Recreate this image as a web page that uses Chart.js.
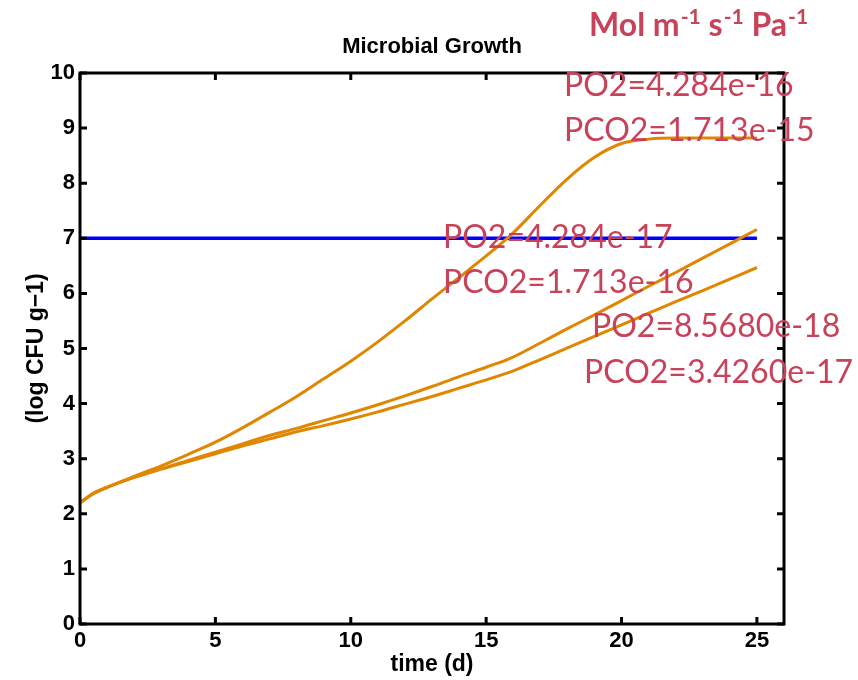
<!DOCTYPE html>
<html>
<head>
  <title>Microbial Growth</title>
  <script src="https://cdn.jsdelivr.net/npm/chart.js"></script>
  <style>
    body { margin: 0; background: #fff; }
    #wrap { position: relative; width: 858px; height: 680px; }
    .heading {
      position: absolute;
      left: 282px; width: 300px; top: 33px;
      text-align: center;
      font: bold 22px "Liberation Sans", Arial, sans-serif;
      line-height: 26px;
      color: #000;
    }
    .note {
      position: absolute;
      font-family: Lato, "Open Sans", sans-serif;
      font-size: 32px;
      line-height: 1;
      color: #c8435a;
      white-space: nowrap;
    }
    .note.units { font-weight: bold; }
    .note sup { font-size: 0.66em; vertical-align: 0.55em; line-height: 0; margin-left: 1px; }
  </style>
</head>
<body>
  <div id="wrap">
    <canvas id="growthChart" width="858" height="680"></canvas>
    <div class="heading">Microbial Growth</div>
    <div class="note units" style="left:589px; top:8px;">Mol m<sup>-1</sup> s<sup>-1</sup> Pa<sup>-1</sup></div>
    <div class="note" style="left:564px; top:68px;">PO2=4.284e-16</div>
    <div class="note" style="left:564px; top:113px;">PCO2=1.713e-15</div>
    <div class="note" style="left:443px; top:220px;">PO2=4.284e-17</div>
    <div class="note" style="left:443px; top:265px;">PCO2=1.713e-16</div>
    <div class="note" style="left:592px; top:309px;">PO2=8.5680e-18</div>
    <div class="note" style="left:584px; top:355px;">PCO2=3.4260e-17</div>
  </div>

  <script>
    // values (days vs log CFU/g)
    const timeHigh = [0, 0.5, 1, 2, 3, 4, 5, 6, 7, 8, 9, 10, 11, 12, 13, 14, 15, 16, 17, 18, 19, 20, 21, 22, 23, 24, 25];
    const growthHigh = [2.2, 2.37, 2.48, 2.68, 2.87, 3.08, 3.3, 3.56, 3.84, 4.13, 4.45, 4.77, 5.12, 5.5, 5.9, 6.29, 6.68, 7.1, 7.6, 8.08, 8.47, 8.72, 8.8, 8.82, 8.82, 8.82, 8.82];

    const timeLow = [0, 0.5, 1, 2, 3, 4, 5, 6, 7, 8, 9, 10, 11, 12, 13, 14, 15, 15.93, 17, 18, 19, 20, 21, 22, 23, 24, 25];
    const growthMid = [2.2, 2.37, 2.48, 2.66, 2.82, 2.97, 3.12, 3.27, 3.42, 3.55, 3.69, 3.83, 3.98, 4.14, 4.31, 4.49, 4.66, 4.83, 5.1, 5.36, 5.61, 5.87, 6.13, 6.38, 6.64, 6.9, 7.16];
    const growthLowest = [2.2, 2.37, 2.48, 2.66, 2.81, 2.95, 3.09, 3.23, 3.36, 3.49, 3.6, 3.72, 3.85, 3.99, 4.13, 4.28, 4.43, 4.58, 4.8, 5.01, 5.22, 5.43, 5.64, 5.85, 6.05, 6.26, 6.47];

    const limitTime = [0, 25];
    const limitLevel = [7, 7];

    const ORANGE = 'rgb(224,134,0)';
    const toPoints = (xs, ys) => xs.map((t, i) => ({ x: t, y: ys[i] }));

    const tickFont = { family: '"Liberation Sans", Arial, sans-serif', size: 22, weight: 'bold' };
    const labelFont = { family: '"Liberation Sans", Arial, sans-serif', size: 23, weight: 'bold' };

    // MATLAB style box with inward ticks
    const boxPlugin = {
      id: 'box',
      afterDraw(chart) {
        const { ctx, chartArea: a, scales: { x, y } } = chart;
        const len = 7;
        ctx.save();
        ctx.strokeStyle = '#000';
        ctx.lineWidth = 3;
        ctx.strokeRect(a.left, a.top, a.right - a.left, a.bottom - a.top);
        ctx.beginPath();
        x.ticks.forEach(t => {
          const px = x.getPixelForValue(t.value);
          ctx.moveTo(px, a.bottom); ctx.lineTo(px, a.bottom - len);
          ctx.moveTo(px, a.top); ctx.lineTo(px, a.top + len);
        });
        y.ticks.forEach(t => {
          const py = y.getPixelForValue(t.value);
          ctx.moveTo(a.left, py); ctx.lineTo(a.left + len, py);
          ctx.moveTo(a.right, py); ctx.lineTo(a.right - len, py);
        });
        ctx.stroke();
        ctx.restore();
      }
    };

    const lineSet = (data, color, width) => ({
      data: data,
      borderColor: color,
      borderWidth: width,
      pointRadius: 0,
      fill: false,
      showLine: true,
      cubicInterpolationMode: 'monotone'
    });

    new Chart(document.getElementById('growthChart').getContext('2d'), {
      type: 'line',
      data: {
        datasets: [
          lineSet(toPoints(timeHigh, growthHigh), ORANGE, 3),
          lineSet(toPoints(timeLow, growthMid), ORANGE, 3),
          lineSet(toPoints(timeLow, growthLowest), ORANGE, 3),
          lineSet(toPoints(limitTime, limitLevel), '#0000ff', 3.5)
        ]
      },
      options: {
        responsive: false,
        animation: false,
        layout: { padding: { top: 73, right: 74, bottom: 0, left: 0 } },
        plugins: {
          legend: { display: false },
          tooltip: { enabled: false },
          title: { display: false }
        },
        scales: {
          x: {
            type: 'linear',
            min: 0,
            max: 26,
            grid: { display: false, drawTicks: false },
            border: { display: false },
            ticks: { stepSize: 5, includeBounds: false, color: '#000', font: tickFont, padding: 4 },
            title: { display: true, text: 'time (d)', color: '#000', font: labelFont, padding: { top: 2, bottom: 2 } },
            afterFit: s => { s.height = 56; }
          },
          y: {
            min: 0,
            max: 10,
            grid: { display: false, drawTicks: false },
            border: { display: false },
            ticks: { stepSize: 1, color: '#000', font: tickFont, padding: 5 },
            title: { display: true, text: '(log CFU g\u22121)', color: '#000', font: labelFont, padding: { top: 23, bottom: 23 } },
            afterFit: s => { s.width = 80; }
          }
        }
      },
      plugins: [boxPlugin]
    });
  </script>
</body>
</html>
